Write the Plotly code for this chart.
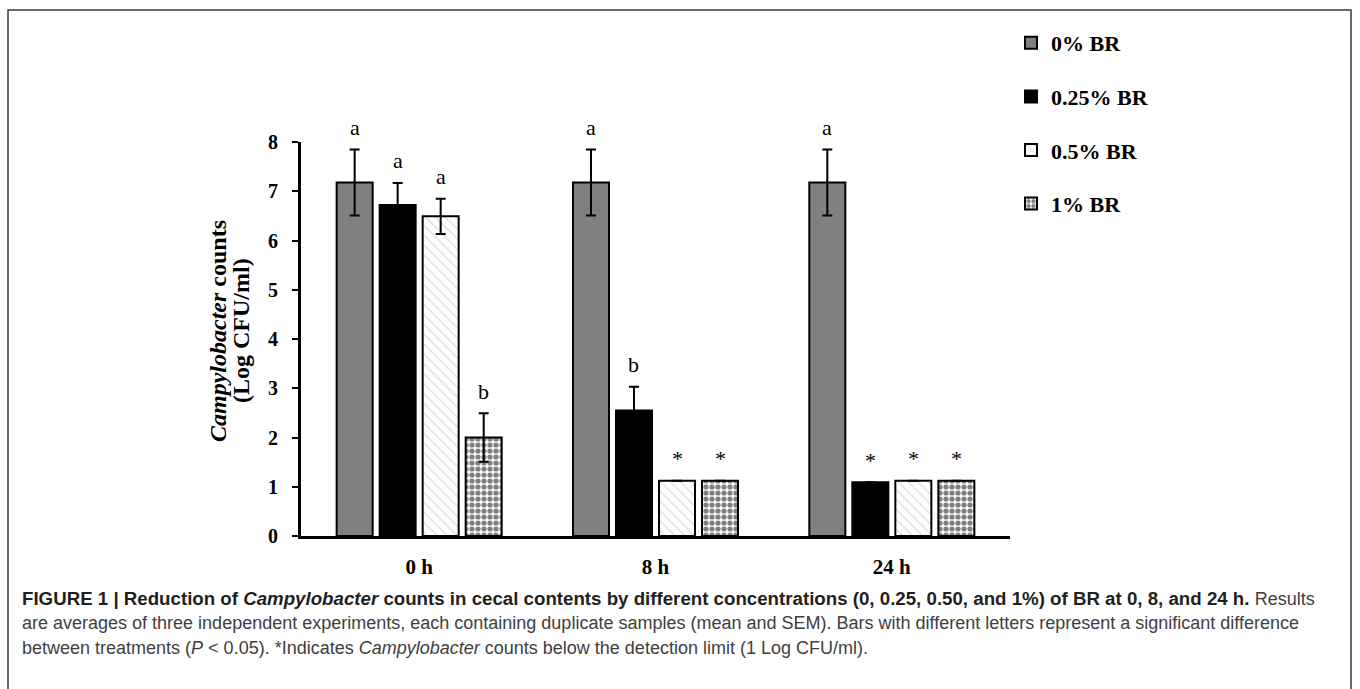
import plotly.graph_objects as go

# ---- data ----
times = ["0 h", "8 h", "24 h"]
series_names = ["0% BR", "0.25% BR", "0.5% BR", "1% BR"]
counts_0 = [7.18, 7.18, 7.18]
counts_025 = [6.72, 2.55, 1.09]
counts_05 = [6.49, 1.12, 1.12]
counts_1 = [2.00, 1.12, 1.12]
sem_0 = [0.67, 0.67, 0.67]
sem_025 = [0.45, 0.48, 0]
sem_05 = [0.36, 0, 0]
sem_1 = [0.49, 0, 0]
letters_0 = ["a", "a", "a"]
letters_025 = ["a", "b", "*"]
letters_05 = ["a", "*", "*"]
letters_1 = ["b", "*", "*"]

W, H = 1360, 689
L, R, T, B = 301, 350, 142, 153
PW, PH = W - L - R, H - T - B

SERIF = "Liberation Serif, Times New Roman, serif"
SANS = "Liberation Sans, Arial, sans-serif"

BARGAP = 0.272
GROUPGAP = 0.163

styles = [
    dict(color="#808080"),
    dict(color="#000000"),
    dict(color="#ffffff", pattern=dict(shape="\\", fgcolor="#a8a8a8", bgcolor="#ffffff",
                                       size=7, solidity=0.15)),
    dict(color="#ffffff", pattern=dict(shape=".", fgcolor="#000000", bgcolor="#ffffff",
                                       size=6, solidity=0.6)),
]
values = [counts_0, counts_025, counts_05, counts_1]
errors = [sem_0, sem_025, sem_05, sem_1]
letters = [letters_0, letters_025, letters_05, letters_1]

fig = go.Figure()
for i, name in enumerate(series_names):
    fig.add_trace(go.Bar(
        name=name, x=times, y=values[i],
        legendgroup=f"g{i}",
        marker=dict(**styles[i], line=dict(color="#000000", width=2)),
        error_y=dict(type="data", array=errors[i], visible=True,
                     color="#000000", thickness=2, width=5),
    ))

# significance letters above each bar
cat_px = PW / len(times)
slot_px = cat_px * (1 - BARGAP) / len(series_names)
annotations = []
for i in range(len(series_names)):
    off = (i - (len(series_names) - 1) / 2) * slot_px
    for j, t in enumerate(times):
        annotations.append(dict(
            x=t, y=values[i][j] + errors[i][j], xref="x", yref="y",
            text=letters[i][j], showarrow=False, xshift=off, yshift=22,
            yanchor="middle", font=dict(family=SERIF, size=22, color="#000000"),
        ))


def px_x(px):
    return (px - L) / PW


def px_y(py):
    return (H - B - py) / PH


# y-axis title (two lines)
annotations.append(dict(
    x=px_x(218), y=px_y(331), xref="paper", yref="paper", showarrow=False,
    text="<b><i>Campylobacter</i> counts</b>", textangle=-90,
    font=dict(family=SERIF, size=24, color="#000000"),
    xanchor="center", yanchor="middle",
))
annotations.append(dict(
    x=px_x(241), y=px_y(331), xref="paper", yref="paper", showarrow=False,
    text="<b>(Log CFU/ml)</b>", textangle=-90,
    font=dict(family=SERIF, size=24, color="#000000"),
    xanchor="center", yanchor="middle",
))

# caption: bold lead-in, regular body text
BODY = "color:#404040;font-size:18px"
caption_lines = [
    "<b>FIGURE 1 | Reduction of <i>Campylobacter</i> counts in cecal contents by different "
    "concentrations (0, 0.25, 0.50, and 1%) of BR at 0, 8, and 24 h.</b> "
    f"<span style='{BODY}'>Results</span>",
    f"<span style='{BODY}'>are averages of three independent experiments, each containing "
    "duplicate samples (mean and SEM). Bars with different letters represent a significant difference</span>",
    f"<span style='{BODY}'>between treatments (<i>P</i> &lt; 0.05). *Indicates "
    "<i>Campylobacter</i> counts below the detection limit (1 Log CFU/ml).</span>",
]
for k, line in enumerate(caption_lines):
    annotations.append(dict(
        x=px_x(20), y=px_y(598 + 25 * k), xref="paper", yref="paper", showarrow=False,
        text=line, xanchor="left", yanchor="middle", align="left",
        font=dict(family=SANS, size=18.7, color="#231f20"),
    ))

fig.update_layout(
    width=W, height=H,
    margin=dict(l=L, r=R, t=T, b=B, autoexpand=False),
    paper_bgcolor="#ffffff", plot_bgcolor="#ffffff",
    barmode="group", bargap=BARGAP, bargroupgap=GROUPGAP,
    showlegend=True,
    legend=dict(
        x=px_x(1011), y=px_y(22), xanchor="left", yanchor="top",
        font=dict(family=SERIF, size=22, color="#000000", weight="bold"),
        tracegroupgap=22, bgcolor="rgba(0,0,0,0)",
    ),
    annotations=annotations,
    shapes=[dict(
        type="rect", xref="paper", yref="paper",
        x0=px_x(8), x1=px_x(1351), y0=px_y(700), y1=px_y(10),
        line=dict(color="#3a3a3a", width=1.5), fillcolor="rgba(0,0,0,0)", layer="below",
    )],
    xaxis=dict(
        type="category", range=[-0.5, 2.5],
        showline=True, linecolor="#000000", linewidth=3,
        ticks="", showgrid=False, zeroline=False,
        tickfont=dict(family=SERIF, size=21, color="#000000", weight="bold"),
        ticklabelstandoff=10,
    ),
    yaxis=dict(
        range=[0, 8], dtick=1, tick0=0,
        showline=True, linecolor="#000000", linewidth=3,
        ticks="outside", ticklen=6, tickwidth=2, tickcolor="#000000",
        showgrid=False, zeroline=False,
        tickfont=dict(family=SERIF, size=20, color="#000000", weight="bold"),
        ticklabelstandoff=10,
    ),
)

fig.write_html("out.html")
